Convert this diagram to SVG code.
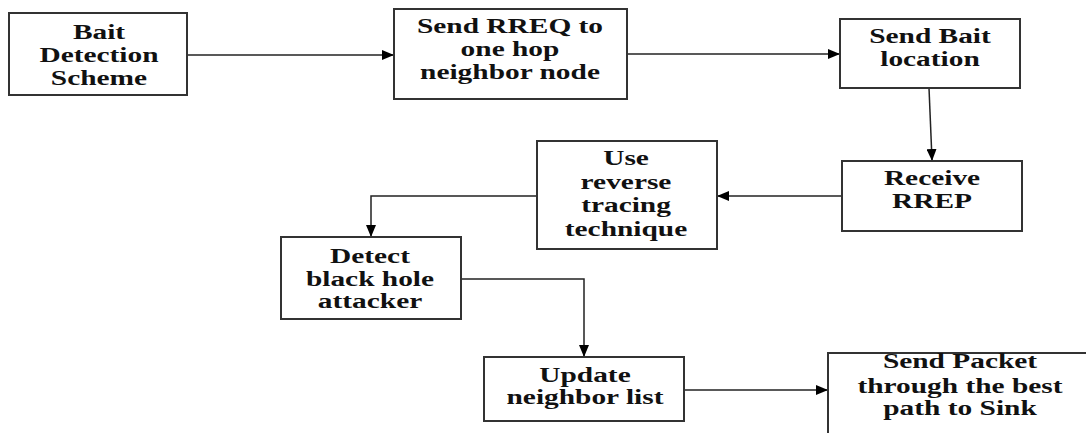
<svg xmlns="http://www.w3.org/2000/svg" width="1086" height="433" viewBox="0 0 1086 433">
<style>
.box{fill:#fff;stroke:#333;stroke-width:2}
.t{font-family:"Liberation Serif","Times New Roman",serif;font-weight:bold;font-size:20px;fill:#111;text-anchor:middle}
.c{fill:none;stroke:#222;stroke-width:1.5}
</style>
<defs>
<marker id="ah" markerWidth="12" markerHeight="10" refX="11" refY="5" orient="auto" markerUnits="userSpaceOnUse">
<path d="M0,0 L12,5 L0,10 Z" fill="#000"/>
</marker>
</defs>
<rect width="1086" height="433" fill="#fff"/>
<g id="connectors">
<path class="c" d="M187,55 H393" marker-end="url(#ah)"/>
<path class="c" d="M627,54 H839" marker-end="url(#ah)"/>
<path class="c" d="M929,88 L932,160" marker-end="url(#ah)"/>
<path class="c" d="M842,196 H718" marker-end="url(#ah)"/>
<path class="c" d="M537,196 H371 V236" marker-end="url(#ah)"/>
<path class="c" d="M461,279 H584 V356" marker-end="url(#ah)"/>
<path class="c" d="M684,390 H827" marker-end="url(#ah)"/>
</g>
<g id="n1">
<rect class="box" x="9" y="13" width="178" height="82"/>
<g transform="translate(99,0) scale(1.47,1)"><text class="t" x="0" y="39">Bait</text><text class="t" x="0" y="62">Detection</text><text class="t" x="0" y="85">Scheme</text></g>
</g>
<g id="n2">
<rect class="box" x="394" y="9" width="233" height="90"/>
<g transform="translate(510,0) scale(1.47,1)"><text class="t" x="0" y="33">Send RREQ to</text><text class="t" x="0" y="56">one hop</text><text class="t" x="0" y="79">neighbor node</text></g>
</g>
<g id="n3">
<rect class="box" x="840" y="19" width="180" height="69"/>
<g transform="translate(930,0) scale(1.47,1)"><text class="t" x="0" y="43">Send Bait</text><text class="t" x="0" y="66">location</text></g>
</g>
<g id="n4">
<rect class="box" x="842" y="161" width="180" height="70"/>
<g transform="translate(932,0) scale(1.47,1)"><text class="t" x="0" y="185">Receive</text><text class="t" x="0" y="208">RREP</text></g>
</g>
<g id="n5">
<rect class="box" x="537" y="141" width="180" height="108"/>
<g transform="translate(626,0) scale(1.47,1)"><text class="t" x="0" y="165">Use</text><text class="t" x="0" y="189">reverse</text><text class="t" x="0" y="212">tracing</text><text class="t" x="0" y="236">technique</text></g>
</g>
<g id="n6">
<rect class="box" x="281" y="237" width="180" height="82"/>
<g transform="translate(370,0) scale(1.47,1)"><text class="t" x="0" y="263">Detect</text><text class="t" x="0" y="286">black hole</text><text class="t" x="0" y="308">attacker</text></g>
</g>
<g id="n7">
<rect class="box" x="484" y="357" width="200" height="64"/>
<g transform="translate(585,0) scale(1.47,1)"><text class="t" x="0" y="382">Update</text><text class="t" x="0" y="404">neighbor list</text></g>
</g>
<g id="n8">
<rect class="box" x="828" y="353" width="264" height="90"/>
<g transform="translate(960,0) scale(1.47,1)"><text class="t" x="0" y="368">Send Packet</text><text class="t" x="0" y="393">through the best</text><text class="t" x="0" y="415">path to Sink</text></g>
</g>
</svg>
